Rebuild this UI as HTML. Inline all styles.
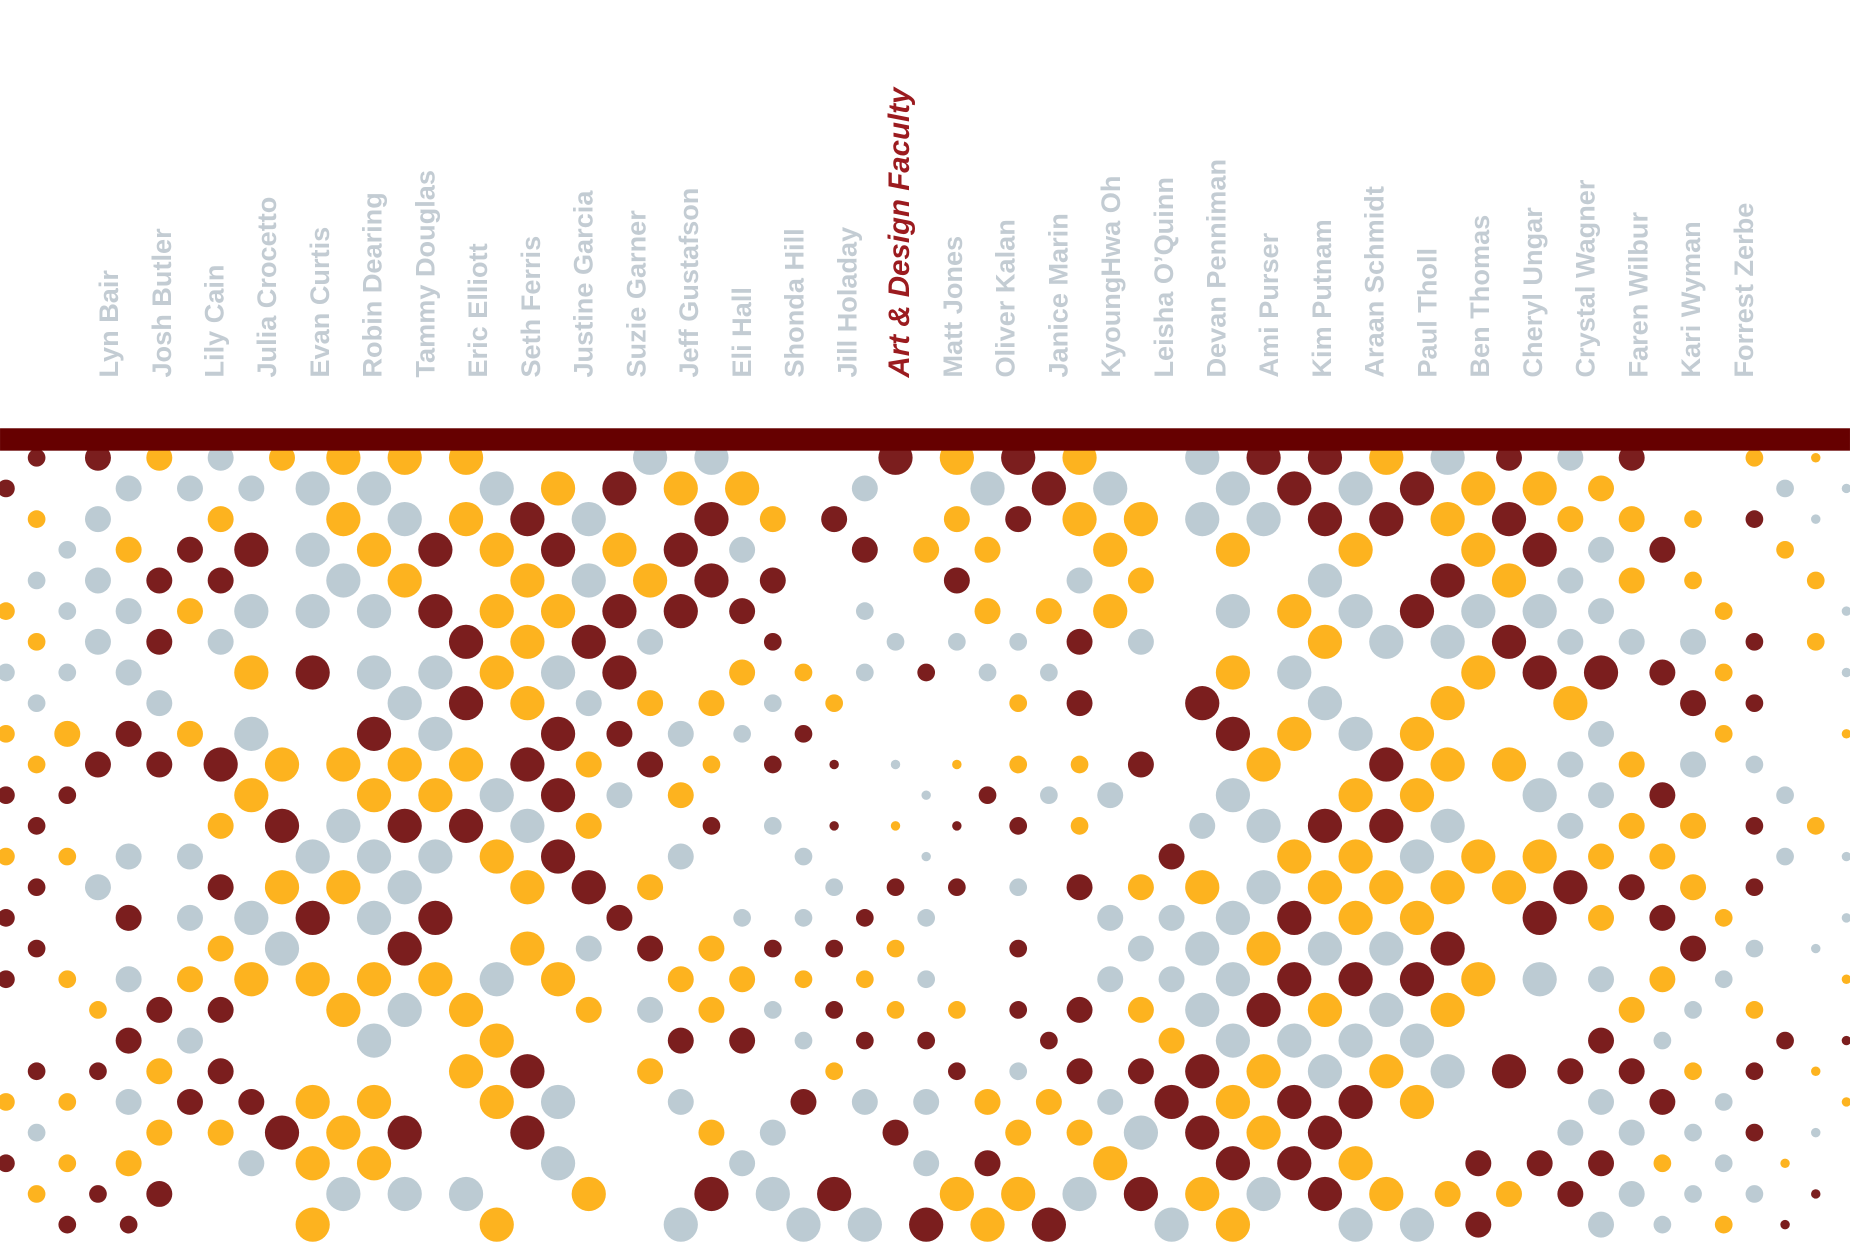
<!DOCTYPE html>
<html><head><meta charset="utf-8"><style>
html,body{margin:0;padding:0;background:#fff;}
svg{display:block;}
text{font-family:"Liberation Sans",Arial,sans-serif;font-weight:bold;}
</style></head><body>
<svg id="s" xmlns="http://www.w3.org/2000/svg" width="1850" height="1250" viewBox="0 0 1568 1059.5">
<g id="dots"></g>
<rect x="0" y="363" width="1568" height="19" fill="#660000"/>
<g id="labels" font-size="23" fill="#c3ccd3"></g>
</svg>
<script>
var rows=[
"R2 R3 Y3 G3 Y3 Y4 Y4 Y4 - - G4 G4 - - R4 Y4 R4 Y4 - G4 R4 R4 Y4 G4 R3 G3 R3 - Y2 Y1",
"R2 - G3 G3 G3 G4 G4 - G4 Y4 R4 Y4 Y4 - G3 - G4 R4 G4 - G4 R4 G4 R4 Y4 Y4 Y3 - - G2 G1",
"Y2 G3 - Y3 - Y4 G4 Y4 R4 G4 - R4 Y3 R3 - Y3 R3 Y4 Y4 G4 G4 R4 R4 Y4 R4 Y3 Y3 Y2 R2 G1",
"- G2 Y3 R3 R4 G4 Y4 R4 Y4 R4 Y4 R4 G3 - R3 Y3 Y3 - Y4 - Y4 - Y4 - Y4 R4 G3 R3 - Y2 -",
"G2 G3 R3 R3 - G4 Y4 - Y4 G4 Y4 R4 R3 - - R3 - G3 Y3 - - G4 - R4 Y4 G3 Y3 Y2 - Y2",
"Y2 G2 G3 Y3 G4 G4 G4 R4 Y4 Y4 R4 R4 R3 - G2 - Y3 Y3 Y4 - G4 Y4 G4 R4 G4 G4 G3 - Y2 - G1",
"Y2 G3 R3 G3 - - - R4 Y4 R4 G3 - R2 - G2 G2 G2 R3 G3 - - Y4 G4 G4 R4 G3 G3 G3 R2 Y2",
"G2 G2 G3 - Y4 R4 G4 G4 Y4 G4 R4 - Y3 Y2 G2 R2 G2 G2 - - Y4 G4 - - Y4 R4 R4 R3 Y2 - G1",
"G2 - G3 - - - G4 R4 Y4 G3 Y3 Y3 G2 Y2 - - Y2 R3 - R4 - G4 - Y4 - Y4 - R3 R2 -",
"Y2 Y3 R3 Y3 G4 - R4 G4 - R4 R3 G3 G2 R2 - - - - - - R4 Y4 G4 Y4 - - G3 - Y2 - Y1",
"Y2 R3 R3 R4 Y4 Y4 Y4 Y4 R4 Y3 R3 Y2 R2 R1 G1 Y1 Y2 Y2 R3 - Y4 - R4 Y4 Y4 G3 Y3 G3 G2 -",
"R2 R2 - - Y4 - Y4 Y4 G4 R4 G3 Y3 - - - G1 R2 G2 G3 - G4 - Y4 Y4 - G4 G3 R3 - G2 -",
"R2 - - Y3 R4 G4 R4 R4 G4 Y3 - R2 G2 R1 Y1 R1 R2 Y2 - G3 G4 R4 R4 G4 - G3 Y3 Y3 R2 Y2",
"Y2 Y2 G3 G3 - G4 G4 G4 Y4 R4 - G3 - G2 - G1 - - - R3 - Y4 Y4 G4 Y4 Y4 Y3 Y3 - G2 G1",
"R2 G3 - R3 Y4 Y4 G4 - Y4 R4 Y3 - - G2 R2 R2 G2 R3 Y3 Y4 G4 Y4 Y4 Y4 Y4 R4 R3 Y3 R2 -",
"R2 - R3 G3 G4 R4 G4 R4 - - R3 - G2 G2 R2 G2 - - G3 G3 G4 R4 Y4 Y4 - R4 Y3 R3 Y2 - G1",
"R2 - - Y3 G4 - R4 - Y4 G3 R3 Y3 R2 R2 Y2 - R2 - G3 G4 Y4 G4 G4 R4 - - - R3 G2 G1",
"R2 Y2 G3 Y3 Y4 Y4 Y4 Y4 G4 Y4 - Y3 Y3 Y2 Y2 G2 - - G3 G3 G4 R4 R4 R4 Y4 G4 G3 Y3 G2 - Y1",
"- Y2 R3 R3 - Y4 G4 Y4 - Y3 G3 Y3 G2 R2 Y2 Y2 R2 R3 Y3 G4 R4 Y4 G4 Y4 - - Y3 G2 Y2 -",
"- - R3 G3 - - G4 - Y4 - - R3 R3 G2 R2 R2 - R2 - Y3 G4 G4 G4 G4 - - R3 G2 - R2 R1",
"R2 R2 Y3 R3 - - - Y4 R4 - Y3 - - Y2 - R2 G2 R3 R3 R4 Y4 G4 Y4 G4 R4 R3 R3 Y2 R2 Y1",
"Y2 Y2 G3 R3 R3 Y4 Y4 - Y4 G4 - G3 - R3 G3 G3 Y3 Y3 G3 R4 Y4 R4 R4 Y4 - - G3 R3 G2 - Y1",
"G2 - Y3 Y3 R4 Y4 R4 - R4 - - Y3 G3 - R3 - Y3 Y3 G4 R4 Y4 R4 - - - G3 G3 G2 R2 G1",
"R2 Y2 Y3 - G3 Y4 Y4 - - G4 - - G3 - - G3 R3 - Y4 - R4 R4 Y4 - R3 R3 R3 Y2 G2 Y1 -",
"Y2 R2 R3 - - G4 G4 G4 - Y4 - R4 G4 R4 - Y4 Y4 G4 R4 Y4 G4 R4 Y4 Y3 Y3 R3 G3 G2 G2 R1",
"- R2 R2 - - Y4 - - Y4 - - G4 - G4 G4 R4 Y4 R4 - G4 Y4 - G4 G4 R3 - G3 G2 Y2 R1 -"
];
var col={R:"#7b1e1e",Y:"#fdb31f",G:"#bccbd3"};
var rad=[0,4,7.5,11,14.5];
var ns="http://www.w3.org/2000/svg";
var g=document.getElementById("dots");
rows.forEach(function(r,j){
  var t=r.split(" ");var y=388+26*j;var k0=(j%2==0)?1:0;
  t.forEach(function(tok,i){
    if(tok=="-")return;
    var k=k0+2*i;var x=5+26*k;
    var c=document.createElementNS(ns,"circle");
    c.setAttribute("cx",x);c.setAttribute("cy",y);
    c.setAttribute("r",rad[+tok[1]]);c.setAttribute("fill",col[tok[0]]);
    g.appendChild(c);
  });
});
var names=["Lyn Bair","Josh Butler","Lily Cain","Julia Crocetto","Evan Curtis","Robin Dearing","Tammy Douglas","Eric Elliott","Seth Ferris","Justine Garcia","Suzie Garner","Jeff Gustafson","Eli Hall","Shonda Hill","Jill Holaday","Art & Design Faculty","Matt Jones","Oliver Kalan","Janice Marin","KyoungHwa Oh","Leisha O’Quinn","Devan Penniman","Ami Purser","Kim Putnam","Araan Schmidt","Paul Tholl","Ben Thomas","Cheryl Ungar","Crystal Wagner","Faren Wilbur","Kari Wyman","Forrest Zerbe"];
var L=document.getElementById("labels");
names.forEach(function(n,i){
  var cx=92+i*44.7;
  var t=document.createElementNS(ns,"text");
  var bx=cx+8;
  t.setAttribute("transform","translate("+bx+",320) rotate(-90)");
  if(i==15){t.setAttribute("fill","#9b1b1f");t.setAttribute("font-style","italic");t.setAttribute("font-size","25");}
  t.textContent=n;L.appendChild(t);
});
</script>
</body></html>
